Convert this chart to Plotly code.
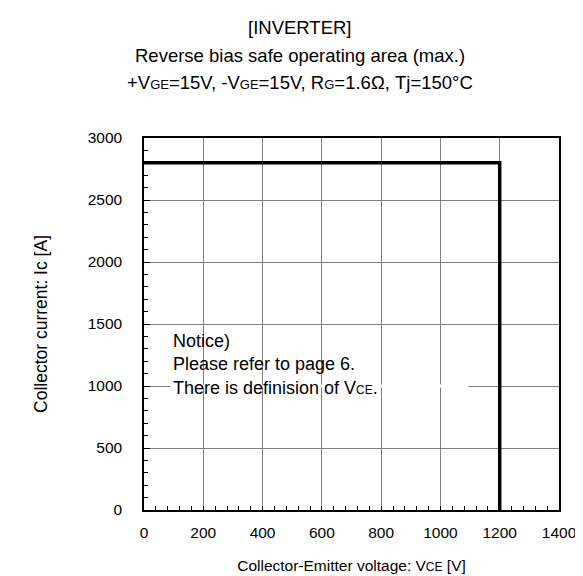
import plotly.graph_objects as go

# RBSOA boundary (max.)
vce = [0, 1200, 1200]
ic = [2800, 2800, 0]

x_ticks = [0, 200, 400, 600, 800, 1000, 1200, 1400]
y_ticks = [0, 500, 1000, 1500, 2000, 2500, 3000]

title_lines = [
    "[INVERTER]",
    "Reverse bias safe operating area (max.)",
    "+V<span style='font-size:13px'>GE</span>=15V, -V<span style='font-size:13px'>GE</span>=15V, "
    "R<span style='font-size:13px'>G</span>=1.6Ω, Tj=150°C",
]

FONT = "Liberation Sans, Arial, sans-serif"
SUB = "<span style='font-size:12px'>{}</span>"

W, H = 583, 576
ML, MR, MT, MB = 136, 32, 130, 74

fig = go.Figure()
fig.add_trace(go.Scatter(
    x=vce, y=ic, mode="lines",
    line=dict(color="black", width=3.5),
    hoverinfo="skip", showlegend=False,
))

fig.update_layout(
    width=W, height=H,
    margin=dict(l=ML, r=MR, t=MT, b=MB, autoexpand=False),
    paper_bgcolor="white", plot_bgcolor="white",
    font=dict(family=FONT, color="black", size=16),
    showlegend=False,
)

# title lines, centred on the page
xc = (W / 2 - ML) / (W - ML - MR)
for txt, py in zip(title_lines, [1.296, 1.222, 1.148]):
    fig.add_annotation(
        x=xc, xref="paper", y=py, yref="paper", xanchor="center", yanchor="middle",
        text=txt, showarrow=False, font=dict(size=18.5, family=FONT, color="black"),
    )

fig.update_xaxes(
    range=[0, 1400], tickvals=x_ticks, ticktext=[str(v) for v in x_ticks],
    showgrid=True, gridcolor="#7f7f7f", gridwidth=1,
    showline=True, linecolor="black", linewidth=1.5, mirror=True,
    ticks="inside", ticklen=0, tickcolor="black",
    minor=dict(dtick=40, ticks="inside", ticklen=4, tickcolor="black", showgrid=False),
    zeroline=False, tickfont=dict(size=15.5), ticklabelstandoff=8,
    automargin=False,
    title=dict(text="Collector-Emitter voltage: V" + SUB.format("CE") + " [V]",
               font=dict(size=15.5), standoff=20),
)
fig.update_yaxes(
    range=[0, 3000], tickvals=y_ticks, ticktext=[str(v) for v in y_ticks],
    showgrid=True, gridcolor="#7f7f7f", gridwidth=1,
    showline=True, linecolor="black", linewidth=1.5, mirror=True,
    ticks="inside", ticklen=6, tickcolor="black",
    minor=dict(dtick=100, ticks="inside", ticklen=4, tickcolor="black", showgrid=False),
    zeroline=False, tickfont=dict(size=15.5), ticklabelstandoff=17,
    automargin=False,
    title=dict(text="Collector current: Ic [A]", font=dict(size=17.5), standoff=36),
)

# White mask over part of the 1000 A gridline behind the notice text
fig.add_shape(type="line", xref="x", yref="y", x0=90, x1=1095, y0=1000, y1=1000,
              line=dict(color="white", width=3), layer="between")

fig.add_annotation(
    x=92, y=1460, xref="x", yref="y", xanchor="left", yanchor="top",
    align="left", showarrow=False,
    text="Notice)<br>Please refer to page 6.<br>There is definision of V" + SUB.format("CE") + ".",
    font=dict(size=18, family=FONT, color="black"),
)

fig.write_html("out.html")
